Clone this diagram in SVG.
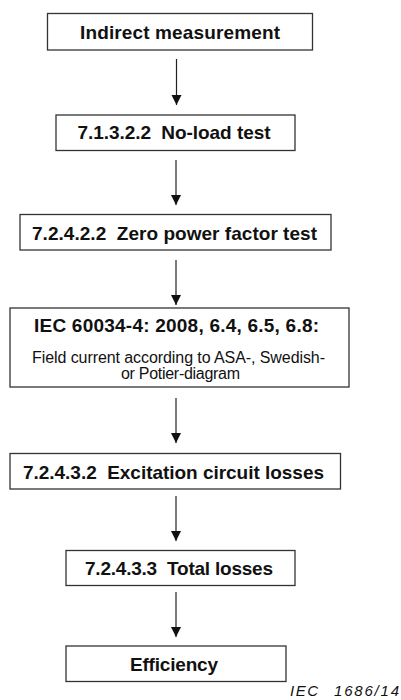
<svg xmlns="http://www.w3.org/2000/svg" width="401" height="700" viewBox="0 0 401 700">
<style>
.box{fill:#fff;stroke:#333;stroke-width:1.3}
.h{font-family:"Liberation Sans",Arial,sans-serif;font-weight:bold;font-size:19px;fill:#111;text-anchor:middle;white-space:pre}
.n{font-family:"Liberation Sans",Arial,sans-serif;font-size:16px;fill:#111;text-anchor:middle}
.c{stroke:#222;stroke-width:1.2;fill:none}
.lab{font-family:"Liberation Sans",Arial,sans-serif;font-style:italic;font-size:15px;fill:#111}
</style>
<defs>
<marker id="ah" markerUnits="userSpaceOnUse" markerWidth="12" markerHeight="12" viewBox="0 0 12 12" refX="10" refY="6" orient="auto">
<path d="M0,1 L10,6 L0,11 Z" fill="#111"/>
</marker>
</defs>
<rect width="401" height="700" fill="#fff"/>
<g id="connectors">
<line class="c" x1="176.5" y1="59" x2="176.5" y2="105" marker-end="url(#ah)"/>
<line class="c" x1="176" y1="160" x2="176" y2="205" marker-end="url(#ah)"/>
<line class="c" x1="176" y1="260" x2="176" y2="305" marker-end="url(#ah)"/>
<line class="c" x1="176" y1="398" x2="176" y2="443" marker-end="url(#ah)"/>
<line class="c" x1="176" y1="496" x2="176" y2="541" marker-end="url(#ah)"/>
<line class="c" x1="176" y1="592" x2="176" y2="637" marker-end="url(#ah)"/>
</g>
<g id="n1">
<rect class="box" x="47.5" y="13.5" width="265" height="36.5"/>
<text class="h" x="180" y="39" textLength="200">Indirect measurement</text>
</g>
<g id="n2">
<rect class="box" x="56" y="115" width="239" height="35.5"/>
<text class="h" x="174" y="138.5" textLength="193" xml:space="preserve">7.1.3.2.2  No-load test</text>
</g>
<g id="n3">
<rect class="box" x="20" y="214.5" width="311" height="35.5"/>
<text class="h" x="174.5" y="239.5" textLength="285" xml:space="preserve">7.2.4.2.2  Zero power factor test</text>
</g>
<g id="n4">
<rect class="box" x="10" y="308" width="339" height="79"/>
<text class="h" x="176.5" y="332" textLength="285">IEC 60034-4: 2008, 6.4, 6.5, 6.8:</text>
<text class="n" x="178.5" y="363" textLength="293">Field current according to ASA-, Swedish-</text>
<text class="n" x="180.5" y="378.5" textLength="119">or Potier-diagram</text>
</g>
<g id="n5">
<rect class="box" x="10" y="453.5" width="330.5" height="35.5"/>
<text class="h" x="173.5" y="478.5" textLength="301" xml:space="preserve">7.2.4.3.2  Excitation circuit losses</text>
</g>
<g id="n6">
<rect class="box" x="66" y="550.5" width="229" height="35"/>
<text class="h" x="179" y="575" textLength="188" xml:space="preserve">7.2.4.3.3  Total losses</text>
</g>
<g id="n7">
<rect class="box" x="66" y="646" width="220" height="35.5"/>
<text class="h" x="174" y="671" textLength="88">Efficiency</text>
</g>
<text class="lab" x="290" y="696" textLength="28">IEC</text>
<text class="lab" x="334" y="696" textLength="65">1686/14</text>
</svg>
